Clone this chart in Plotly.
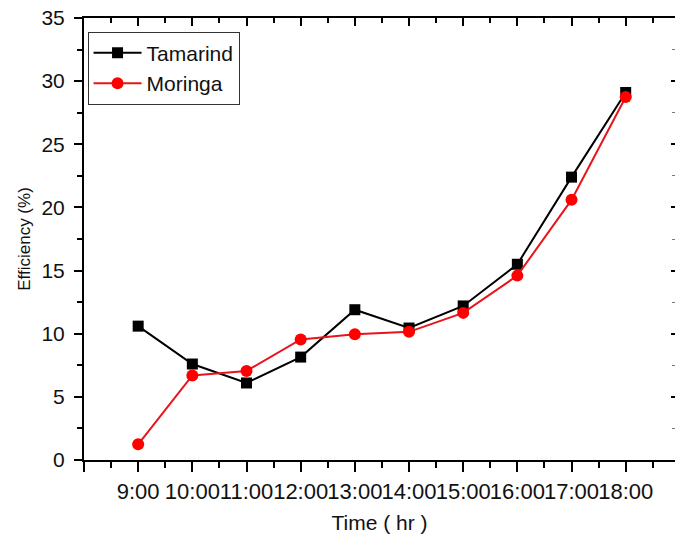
import plotly.graph_objects as go

# Hourly readings
times = ["9:00", "10:00", "11:00", "12:00", "13:00", "14:00", "15:00", "16:00", "17:00", "18:00"]
tamarind = [10.6, 7.6, 6.1, 8.15, 11.9, 10.45, 12.2, 15.5, 22.4, 29.1]
moringa = [1.24, 6.7, 7.05, 9.55, 9.95, 10.15, 11.65, 14.6, 20.6, 28.75]

# Times sit at positions 1..10 on a numeric axis that starts one hour earlier
pos = list(range(1, len(times) + 1))
xmax = 10.91
major_x = list(range(0, 12))
major_txt = [""] + times + [""]

FONT = "Liberation Sans, Arial, sans-serif"
TXT = "#111111"

fig = go.Figure()
fig.add_trace(go.Scatter(
    x=pos, y=tamarind, name="Tamarind", mode="lines+markers",
    line=dict(color="black", width=2),
    marker=dict(symbol="square", size=11, color="black"),
))
fig.add_trace(go.Scatter(
    x=pos, y=moringa, name="Moringa", mode="lines+markers",
    line=dict(color="#e8141c", width=2),
    marker=dict(symbol="circle", size=12, color="#ff0000"),
))

fig.update_layout(
    width=675, height=536,
    margin=dict(l=84, r=0, t=18, b=76, autoexpand=False),
    paper_bgcolor="white", plot_bgcolor="white",
    font=dict(family=FONT, color=TXT),
    showlegend=True,
    legend=dict(
        x=0.006, y=0.969, xanchor="left", yanchor="top",
        bgcolor="white", bordercolor="#333333", borderwidth=1,
        font=dict(size=21, family=FONT, color=TXT),
        tracegroupgap=0, itemwidth=48,
    ),
    xaxis=dict(
        range=[0, xmax], tickmode="array", tickvals=major_x, ticktext=major_txt,
        tickangle=0, automargin=False,
        showgrid=False, zeroline=False,
        showline=True, linecolor="black", linewidth=2,
        ticks="outside", ticklen=10, tickwidth=2, tickcolor="black",
        ticklabelstandoff=1,
        tickfont=dict(size=22, family=FONT, color=TXT),
        minor=dict(tickmode="linear", tick0=0, dtick=0.5, ticks="outside",
                   ticklen=6, tickwidth=2, tickcolor="black", showgrid=False),
        title=dict(text="Time ( hr )", font=dict(size=21, family=FONT, color=TXT),
                   standoff=12),
    ),
    yaxis=dict(
        range=[0, 35], tickmode="linear", tick0=0, dtick=5, automargin=False,
        showgrid=False, zeroline=False,
        showline=True, linecolor="black", linewidth=2,
        ticks="outside", ticklen=8, tickwidth=2, tickcolor="black",
        ticklabelstandoff=5,
        tickfont=dict(size=21, family=FONT, color=TXT),
        minor=dict(tickmode="linear", tick0=0, dtick=2.5, ticks="outside",
                   ticklen=5, tickwidth=2, tickcolor="black", showgrid=False),
        title=dict(text="Efficiency (%)", font=dict(size=17, family=FONT, color=TXT),
                   standoff=6),
    ),
    # mirrored frame on top and right, ticks pointing inward
    xaxis2=dict(
        overlaying="x", side="top", range=[0, xmax], automargin=False,
        tickmode="array", tickvals=major_x, showticklabels=False,
        showgrid=False, zeroline=False,
        showline=True, linecolor="black", linewidth=2,
        ticks="inside", ticklen=8, tickwidth=2, tickcolor="black",
        minor=dict(tickmode="linear", tick0=0, dtick=0.5, ticks="inside",
                   ticklen=5, tickwidth=2, tickcolor="black", showgrid=False),
    ),
    yaxis2=dict(
        overlaying="y", side="right", range=[0, 35], automargin=False,
        tickmode="linear", tick0=0, dtick=5, showticklabels=False,
        showgrid=False, zeroline=False, showline=False,
        ticks="inside", ticklen=4, tickwidth=2, tickcolor="black",
        minor=dict(tickmode="linear", tick0=0, dtick=2.5, ticks="inside",
                   ticklen=3, tickwidth=1, tickcolor="#777777", showgrid=False),
    ),
)

# invisible trace so the mirrored axes are drawn
fig.add_trace(go.Scatter(x=[None], y=[None], xaxis="x2", yaxis="y2",
                         showlegend=False, hoverinfo="skip"))

fig.write_html("out.html")
